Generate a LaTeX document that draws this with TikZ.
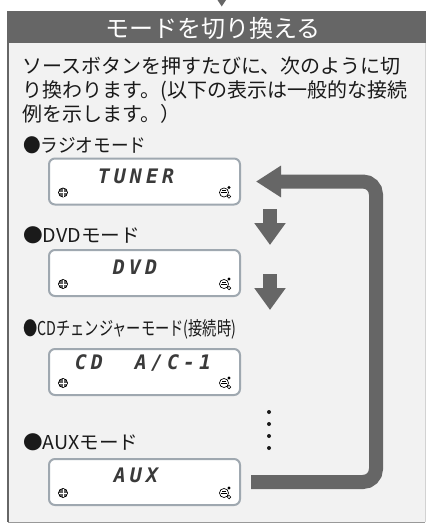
\documentclass[tikz,border=0pt]{standalone}
\usepackage{fontspec}
\usepackage{graphicx}
\setmainfont{Noto Sans CJK JP}
\newfontfamily\lcdfont[LetterSpace=20]{DejaVu Sans Mono}
\usetikzlibrary{arrows.meta,calc}
\definecolor{darkg}{HTML}{666666}
\definecolor{bodyfill}{HTML}{F2F2F2}
\definecolor{lcdborder}{HTML}{9FA8B0}
\definecolor{lcdtext}{HTML}{3A3A3A}
\definecolor{txt}{HTML}{1A1A1A}
\newcommand{\fitw}[2]{\resizebox{#1}{\height}{#2}}
\begin{document}
\begin{tikzpicture}[x=0.75pt,y=-0.75pt,
  lcdbox/.style={draw=lcdborder, line width=1.5pt, fill=white, rounded corners=4.5pt,
    minimum width=143.25pt, minimum height=34.5pt, inner sep=0pt},
  lcdlabel/.style={inner sep=0pt, text=lcdtext, font=\lcdfont\bfseries\itshape\fontsize{15pt}{15pt}\selectfont},
  modelabel/.style={anchor=base west, inner sep=0pt, text=txt, font=\fontsize{14.3pt}{16pt}\selectfont},
  bigarrow/.style={draw=darkg, line width=10.5pt, rounded corners=9.75pt,
    -{Triangle[width=22.5pt,length=18.75pt]}},
  smallarrow/.style={draw=darkg, line width=10.5pt, -{Triangle[width=22.5pt,length=16.5pt]}},
  dotmark/.style={fill=txt},
  iconl/.style={draw=black, line width=0.5pt, fill=gray!75!black},
  iconr/.style={draw=black, line width=0.5pt, fill=white}]
\useasboundingbox (0,0) rectangle (426,525);
% top pointer
\fill[darkg] (217.5,0) -- (226,0) -- (221.75,6.5) -- cycle;
% body
\fill[bodyfill] (8,43) rectangle (425,522);
\draw[gray!80, line width=0.75pt] (8,522) -- (425,522);
\draw[gray!35, line width=0.75pt] (425,43) -- (425,522);
\draw[darkg, line width=1.5pt] (8,43) -- (8,522);
% header
\fill[darkg] (7,11) rectangle (426,43);
\node[text=white, inner sep=0pt, font=\fontsize{18pt}{20pt}\selectfont] (title) at (213,28) {モードを切り換える};
% intro text
\node[anchor=base west, inner sep=0pt, align=left, text=txt, font=\fontsize{15pt}{18pt}\selectfont] (intro) at (22,121.5)
  {ソースボタンを押すたびに、次のように切\\り換わります。(以下の表示は一般的な接続\\例を示します。）};
% mode labels
\node[modelabel] (l1) at (23,152) {\fitw{92.25pt}{●ラジオモード}};
\node[modelabel] (l2) at (23,242) {\fitw{87.75pt}{●DVDモード}};
\node[modelabel] (l3) at (23,335) {\fitw{159.75pt}{●CDチェンジャーモード(接続時)}};
\node[modelabel] (l4) at (23,449) {\fitw{86.25pt}{●AUXモード}};
% displays
\node[lcdbox] (d1) at (144.5,181.5) {};
\node[lcdbox] (d2) at (144.5,273) {};
\node[lcdbox] (d3) at (144.5,372) {};
\node[lcdbox] (d4) at (144.5,482) {};
\node[lcdlabel] (t1) at (136,176) {TUNER};
\node[lcdlabel] (t2) at (135,267) {DVD};
\node[lcdlabel] (t3) at (143,363) {CD\ \ A/C-1};
\node[lcdlabel] (t4) at (136,475) {AUX};
\foreach \d in {d1,d2,d3,d4}{
  \path[iconl] ($(\d.south west)+(15,-13)$) circle (3.4pt);
  \draw[white, line width=0.4pt] ($(\d.south west)+(11,-13)$) -- ($(\d.south west)+(19,-13)$);
  \draw[white, line width=0.4pt] ($(\d.south west)+(15,-17)$) -- ($(\d.south west)+(15,-9)$);
  \path[iconr] ($(\d.south east)+(-17,-13)$) circle (3.4pt);
  \draw[black, line width=0.5pt] ($(\d.south east)+(-20,-13)$) -- ($(\d.south east)+(-14,-13)$);
  \draw[black, line width=0.5pt] ($(\d.south east)+(-19,-15)$) -- ($(\d.south east)+(-15,-15)$);
  \fill[black] ($(\d.south east)+(-12,-18)$) circle (1.2pt);
  \draw[black, line width=0.4pt] ($(\d.south east)+(-12,-9)$) circle (1.4pt);
}
% loop connector
\coordinate (lx) at (376,0);
\draw[bigarrow, shorten <=7.5pt, shorten >=11.25pt]
  (d4.east) -- (d4.east -| lx) -- (d1.east -| lx) -- (d1.east);
% step arrows
\coordinate (a1s) at (270,209); \coordinate (a1e) at (270,245);
\coordinate (a2s) at (270,274); \coordinate (a2e) at (270,310);
\draw[smallarrow] (a1s) -- (a1e);
\draw[smallarrow] (a2s) -- (a2e);
% continuation dots
\foreach \yy in {412,424,436,448}{\fill[dotmark] (269,\yy) circle (1.5pt);}
\end{tikzpicture}
\end{document}
